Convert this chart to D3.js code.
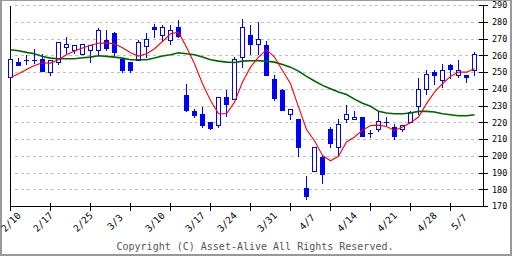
<!DOCTYPE html>
<html><head><meta charset="utf-8">
<script src="https://cdn.jsdelivr.net/npm/d3@7"></script>
<style>html,body{margin:0;padding:0;background:#fff;}svg{display:block;}</style>
</head><body>
<svg id="c" width="512" height="256"></svg>
<script>
const dates = ["2/10","2/12","2/13","2/14","2/17","2/18","2/19","2/20","2/21","2/25","2/26","2/27","2/28","3/3","3/4","3/5","3/6","3/7","3/10","3/11","3/12","3/13","3/14","3/17","3/18","3/19","3/21","3/24","3/25","3/26","3/27","3/28","3/31","4/1","4/2","4/3","4/4","4/7","4/8","4/9","4/10","4/11","4/14","4/15","4/16","4/17","4/18","4/21","4/22","4/23","4/24","4/25","4/28","4/30","5/1","5/2","5/7","5/8","5/9"];
const labelDates = ["2/10","2/17","2/25","3/3","3/10","3/17","3/24","3/31","4/7","4/14","4/21","4/28","5/7"];
const open  = [247.0,256.0,257.0,257.4,257.6,249.8,255.8,264.8,263.4,260.6,263.4,263.0,268.9,273.1,257.6,256.0,257.0,265.7,276.9,271.9,268.9,276.7,236.1,226.8,225.0,220.2,218.6,234.9,233.7,258.8,272.1,266.5,265.9,245.7,239.3,224.8,222.0,180.7,190.6,199.3,216.2,205.1,221.8,221.8,223.0,213.3,215.8,220.0,217.4,216.2,220.0,229.8,239.7,250.0,245.1,254.0,248.1,248.4,251.2];
const high  = [257.6,258.8,260.6,263.8,260.8,257.0,267.7,270.9,265.9,266.5,265.9,276.7,275.1,273.9,257.6,256.0,269.7,273.3,279.1,278.1,278.1,281.1,242.9,228.0,229.6,220.2,234.9,239.3,259.2,282.2,278.1,279.9,269.1,248.3,239.9,227.8,222.0,188.0,205.3,200.9,217.4,222.0,230.8,226.8,223.4,215.4,226.4,223.4,219.0,218.6,226.8,246.9,251.6,251.6,255.0,254.8,257.2,248.4,262.0];
const low   = [246.9,253.6,254.4,255.2,250.8,247.9,254.4,261.2,261.2,260.6,255.6,260.6,262.8,258.8,249.8,249.8,257.0,258.8,270.5,268.3,266.3,270.7,226.2,222.8,216.8,215.8,216.8,223.4,233.7,252.6,260.2,260.2,248.4,232.9,227.6,221.6,199.5,174.1,190.6,183.4,204.7,200.3,219.8,221.8,211.5,211.1,214.3,217.4,209.9,214.7,220.0,224.4,236.3,242.7,240.9,246.3,246.7,243.9,247.9];
const close = [257.6,254.4,257.0,257.4,250.8,257.0,267.7,266.5,265.9,266.5,265.9,274.9,264.6,261.8,251.4,251.4,267.7,269.5,275.7,276.7,274.9,271.7,227.6,224.4,218.6,216.8,234.9,230.6,257.6,276.7,266.5,269.5,248.4,234.7,227.6,227.8,205.5,175.7,205.3,189.4,207.9,218.8,224.8,223.0,211.5,213.3,220.6,220.0,211.5,218.6,226.0,239.7,248.6,248.1,251.0,251.6,251.0,246.9,260.8];
const ma5   = [246.9,249.2,251.8,254.2,255.8,255.6,257.6,260.6,262.8,264.6,266.3,267.5,267.7,267.1,264.8,261.8,259.8,261.2,264.2,268.5,273.1,274.1,265.1,255.2,243.3,233.3,225.4,225.4,232.3,244.3,253.2,259.2,263.6,259.2,251.2,243.3,229.5,216.0,209.3,200.5,197.3,200.0,208.5,211.5,215.5,218.4,218.6,217.8,215.4,217.4,220.0,223.4,231.4,238.3,243.3,247.7,250.2,250.2,252.2];
const ma25  = [263.6,263.0,262.0,261.2,259.6,258.6,258.2,258.2,258.2,258.8,259.2,260.0,259.6,259.2,258.6,257.6,257.6,257.6,258.6,259.8,260.6,261.8,261.2,260.6,259.2,257.6,256.8,256.2,256.0,256.8,257.0,257.0,256.8,256.2,254.8,253.2,250.8,247.7,244.9,242.3,240.3,238.3,236.9,234.1,231.7,229.8,226.8,225.8,225.4,225.4,225.8,226.8,226.8,226.4,225.4,224.8,224.2,224.2,224.8];
const yTicks = [170,180,190,200,210,220,230,240,250,260,270,280,290];

const svg = d3.select("#c");
const x = d3.scalePoint().domain(dates).range([10.5, 474.5]);
const y = d3.scaleLinear().domain([170, 290]).range([206.5, 5.5]);
const mono = "'DejaVu Sans Mono', monospace";

// outer frame
svg.append("rect").attr("x",0).attr("y",0).attr("width",512).attr("height",256).attr("fill","#fff");
svg.append("line").attr("x1",0).attr("x2",512).attr("y1",0.5).attr("y2",0.5).attr("stroke","#999").attr("stroke-width",1);
svg.append("line").attr("x1",1).attr("x2",1).attr("y1",0).attr("y2",256).attr("stroke","#999").attr("stroke-width",2);
svg.append("line").attr("x1",511).attr("x2",511).attr("y1",0).attr("y2",256).attr("stroke","#999").attr("stroke-width",2);
svg.append("line").attr("x1",0).attr("x2",512).attr("y1",255).attr("y2",255).attr("stroke","#999").attr("stroke-width",2);

// grid
svg.append("g").selectAll("line").data(yTicks.filter(v=>v>170)).join("line")
  .attr("x1",15).attr("x2",479).attr("y1",d=>y(d)).attr("y2",d=>y(d))
  .attr("stroke","#c0c0c0").attr("stroke-dasharray","3,3").attr("shape-rendering","crispEdges");

// axes
const ax = svg.append("g").attr("stroke","#000").attr("shape-rendering","crispEdges");
ax.append("line").attr("x1",10.5).attr("x2",10.5).attr("y1",y(290)).attr("y2",y(170));
ax.append("line").attr("x1",483.5).attr("x2",483.5).attr("y1",y(290)).attr("y2",y(170));
ax.append("line").attr("x1",10).attr("x2",484).attr("y1",y(170)).attr("y2",y(170));
ax.selectAll(".yt").data(yTicks).join("line").attr("class","yt")
  .attr("x1",479).attr("x2",488).attr("y1",d=>y(d)).attr("y2",d=>y(d));
ax.selectAll(".xt").data(dates.filter((d,i)=>i%5===0)).join("line").attr("class","xt")
  .attr("x1",d=>x(d)).attr("x2",d=>x(d)).attr("y1",203).attr("y2",211);

svg.append("g").selectAll("text").data(yTicks).join("text")
  .attr("x",492).attr("y",d=>y(d)).attr("dy","0.35em")
  .attr("font-family",mono).attr("font-size",8.5).attr("fill","#000").text(d=>d);

svg.append("g").selectAll("text").data(labelDates).join("text")
  .attr("transform",d=>`translate(${x(d)+0.5},222) rotate(-45)`)
  .attr("text-anchor","middle").attr("dy","0.35em")
  .attr("font-family",mono).attr("font-size",9.5).attr("fill","#000").text(d=>d);

// candles
const data = dates.map((d,i)=>({d,o:open[i],h:high[i],l:low[i],c:close[i]}));
const cg = svg.append("g").attr("shape-rendering","crispEdges");
cg.selectAll(".wick").data(data).join("line").attr("class","wick")
  .attr("x1",d=>x(d.d)).attr("x2",d=>x(d.d)).attr("y1",d=>y(d.h)).attr("y2",d=>y(d.l))
  .attr("stroke","#0000ff");
cg.selectAll(".body").data(data).join("rect").attr("class","body")
  .attr("x",d=>x(d.d)-2).attr("width",4)
  .attr("y",d=>y(Math.max(d.o,d.c))).attr("height",d=>Math.max(0.01,Math.abs(y(d.o)-y(d.c))))
  .attr("fill",d=>d.c<d.o?"#0000ff":"#fff").attr("stroke","#0000ff");

// moving averages
const line = arr => d3.line().x((v,i)=>x(dates[i])).y(v=>y(v))(arr);
svg.append("path").attr("d",line(ma25)).attr("fill","none").attr("stroke","#006400").attr("stroke-width",1.6);
svg.append("path").attr("d",line(ma5)).attr("fill","none").attr("stroke","#ff0000").attr("stroke-width",1.1);

svg.append("text").attr("x",255).attr("y",249.5).attr("text-anchor","middle")
  .attr("font-family",mono).attr("font-size",10).attr("fill","#555")
  .text("Copyright (C) Asset-Alive All Rights Reserved.");
</script>
</body></html>
